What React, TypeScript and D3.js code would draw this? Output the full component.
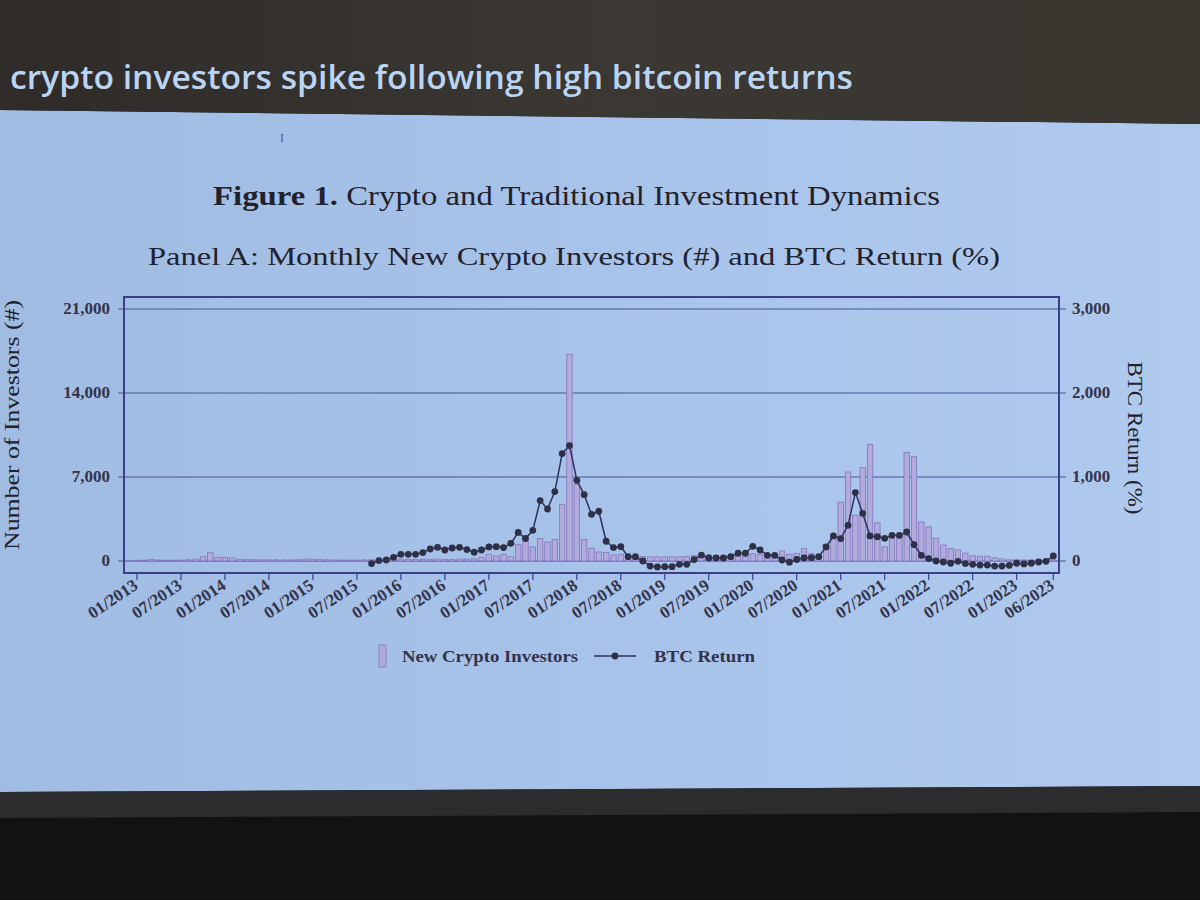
import React from 'react';
import * as d3 from 'd3';

// month index 0 = 01/2013 ... 125 = 06/2023
const investors: number[] = [
  60, 70, 130, 80, 70, 70, 80, 100, 150, 360, 690, 310,
  310, 250, 150, 120, 110, 100, 100, 100, 90, 90, 100, 150,
  150, 120, 100, 90, 80, 80, 80, 90, 100, 110, 110, 120,
  150, 130, 130, 140, 150, 160, 140, 140, 150, 160, 170, 280,
  560, 420, 560, 370, 1390, 1670, 1170, 1870, 1580, 1810, 4720, 17220,
  6420, 1810, 1060, 750, 700, 500, 560, 420, 400, 380, 350, 350,
  350, 350, 350, 380, 450, 550, 500, 450, 420, 450, 500, 550,
  600, 550, 500, 600, 830, 560, 640, 1030, 610, 470, 1390, 2080,
  4900, 7420, 3820, 7780, 9720, 3190, 1190, 2000, 2100, 9050, 8690, 3250,
  2850, 1900, 1330, 1050, 930, 660, 430, 400, 400, 260, 180, 100,
  100, 90, 90, 90, 90, 100,
];

const btcReturn: (number | null)[] = [
  null, null, null, null, null, null, null, null, null, null, null, null,
  null, null, null, null, null, null, null, null, null, null, null, null,
  null, null, null, null, null, null, null, null, -31, 5, 12, 44,
  80, 80, 80, 100, 143, 163, 131, 155, 163, 136, 104, 131,
  167, 171, 160, 210, 340, 268, 365, 719, 619, 826, 1279, 1374,
  961, 790, 556, 592, 235, 160, 171, 52, 52, 0, -60, -71,
  -67, -67, -40, -40, 17, 71, 36, 36, 36, 52, 92, 92,
  175, 131, 68, 68, 12, -14, 18, 36, 40, 52, 167, 298,
  267, 425, 814, 568, 298, 290, 270, 306, 306, 345, 195, 68,
  29, 0, -12, -27, -4, -31, -39, -48, -48, -60, -60, -52,
  -27, -35, -27, -12, -4, 60,
];

const tickIdx: number[] = [0, 6, 12, 18, 24, 30, 36, 42, 48, 54, 60, 66, 72, 78, 84, 90, 96, 102, 108, 114, 120, 125];
const tickLabels: string[] = [
  '01/2013', '07/2013', '01/2014', '07/2014', '01/2015', '07/2015', '01/2016', '07/2016',
  '01/2017', '07/2017', '01/2018', '07/2018', '01/2019', '07/2019', '01/2020', '07/2020',
  '01/2021', '07/2021', '01/2022', '07/2022', '01/2023', '06/2023',
];
const leftTicks: number[] = [0, 7000, 14000, 21000];
const rightTicks: number[] = [0, 1000, 2000, 3000];

const serif = '"Liberation Serif", "DejaVu Serif", serif';

export default function App() {
  const frame = { left: 124, right: 1059, top: 297, bottom: 573 };
  const x = d3.scaleLinear().domain([0, 125]).range([137, 1053.3]);
  const yL = d3.scaleLinear().domain([0, 21000]).range([561, 309]);
  const yR = d3.scaleLinear().domain([0, 3000]).range([561, 309]);
  const fmt = d3.format(',');
  const barW = 5.4;

  const pts = btcReturn
    .map((v, i) => ({ i, v }))
    .filter((d) => d.v !== null) as { i: number; v: number }[];
  const line = d3
    .line<{ i: number; v: number }>()
    .x((d) => x(d.i))
    .y((d) => yR(d.v));

  return (
    <svg width={1200} height={900} style={{ position: 'absolute', left: 0, top: 0 }}>
      <defs>
        <linearGradient id="slide" x1="0" x2="1" y1="0" y2="0">
          <stop offset="0" stopColor="#a0bce2" />
          <stop offset="0.5" stopColor="#a8c3ea" />
          <stop offset="1" stopColor="#b0caee" />
        </linearGradient>
        <linearGradient id="band" x1="0" x2="1" y1="0" y2="0">
          <stop offset="0" stopColor="#2e2b28" />
          <stop offset="0.5" stopColor="#3b3733" />
          <stop offset="1" stopColor="#39352f" />
        </linearGradient>
      </defs>
      <rect x={0} y={0} width={1200} height={900} fill="#121212" />
      <polygon points="0,110 1200,124 1200,786 0,792" fill="url(#slide)" />
      <polygon points="0,0 1200,0 1200,124 0,110" fill="url(#band)" />
      <polygon points="0,792 1200,786 1200,812 0,818" fill="#2c2c2e" />

      <text x={10} y={89} fontFamily='"Open Sans", sans-serif' fontWeight={600} fontSize={32}
        fill="#bad4f4" textLength={843} lengthAdjust="spacingAndGlyphs">
        crypto investors spike following high bitcoin returns
      </text>
      <text x={280} y={142} fontFamily={serif} fontSize={12} fill="#55607a">I</text>

      <text x={213} y={205} fontFamily={serif} fontSize={27} fill="#22222c" textLength={727} lengthAdjust="spacingAndGlyphs">
        <tspan fontWeight="bold">Figure 1.</tspan> Crypto and Traditional Investment Dynamics
      </text>
      <text x={148} y={265} fontFamily={serif} fontSize={26} fill="#22222c" textLength={852} lengthAdjust="spacingAndGlyphs">
        Panel A: Monthly New Crypto Investors (#) and BTC Return (%)
      </text>

      {/* gridlines */}
      {leftTicks.map((t) => (
        <line key={'g' + t} x1={frame.left - 6} x2={frame.right + 7} y1={yL(t)} y2={yL(t)} stroke="#4b5394" strokeWidth={1.2} />
      ))}

      {/* bars */}
      {investors.map((v, i) => (
        <rect key={'b' + i} x={x(i) - barW / 2} y={yL(v)} width={barW} height={yL(0) - yL(v)}
          fill="#b3aadc" stroke="#8275bd" strokeWidth={0.8} />
      ))}

      {/* BTC line */}
      <path d={line(pts) || ''} fill="none" stroke="#2c3160" strokeWidth={1.5} />
      {pts.map((d) => (
        <circle key={'c' + d.i} cx={x(d.i)} cy={yR(d.v)} r={3.4} fill="#2d3046" />
      ))}

      {/* frame */}
      <rect x={frame.left} y={frame.top} width={frame.right - frame.left} height={frame.bottom - frame.top}
        fill="none" stroke="#3b3f86" strokeWidth={2} />

      {/* left axis labels */}
      {leftTicks.map((t) => (
        <text key={'l' + t} x={110} y={yL(t) + 5} textAnchor="end" fontFamily={serif} fontSize={17}
          fontWeight="bold" fill="#33334a">{fmt(t)}</text>
      ))}
      <text transform="translate(19,425) rotate(-90)" textAnchor="middle" fontFamily={serif} fontSize={21}
        fill="#22222c" textLength={250} lengthAdjust="spacingAndGlyphs">
        Number of Investors (#)
      </text>

      {/* right axis labels */}
      {rightTicks.map((t) => (
        <text key={'r' + t} x={1072} y={yR(t) + 5} textAnchor="start" fontFamily={serif} fontSize={17}
          fontWeight="bold" fill="#33334a">{fmt(t)}</text>
      ))}
      <text transform="translate(1128,438) rotate(90)" textAnchor="middle" fontFamily={serif} fontSize={21}
        fill="#22222c" textLength={153} lengthAdjust="spacingAndGlyphs">
        BTC Return (%)
      </text>

      {/* x ticks */}
      {tickIdx.map((m, k) => (
        <g key={'t' + m}>
          <line x1={x(m)} x2={x(m)} y1={frame.bottom} y2={frame.bottom + 7} stroke="#3b3f86" strokeWidth={1.2} />
          <text transform={`translate(${x(m) + 2},${frame.bottom + 15}) rotate(-34)`} textAnchor="end"
            fontFamily={serif} fontSize={17} fontWeight="bold" fill="#33334a">{tickLabels[k]}</text>
        </g>
      ))}

      {/* legend */}
      <rect x={379} y={645} width={7} height={22} fill="#b3aadc" stroke="#8275bd" strokeWidth={0.8} />
      <text x={402} y={662} fontFamily={serif} fontSize={17} fontWeight="bold" fill="#33334a"
        textLength={176} lengthAdjust="spacingAndGlyphs">New Crypto Investors</text>
      <line x1={594} x2={636} y1={656} y2={656} stroke="#2c3160" strokeWidth={1.5} />
      <circle cx={615} cy={656} r={3.4} fill="#2d3046" />
      <text x={654} y={662} fontFamily={serif} fontSize={17} fontWeight="bold" fill="#33334a"
        textLength={101} lengthAdjust="spacingAndGlyphs">BTC Return</text>
    </svg>
  );
}
